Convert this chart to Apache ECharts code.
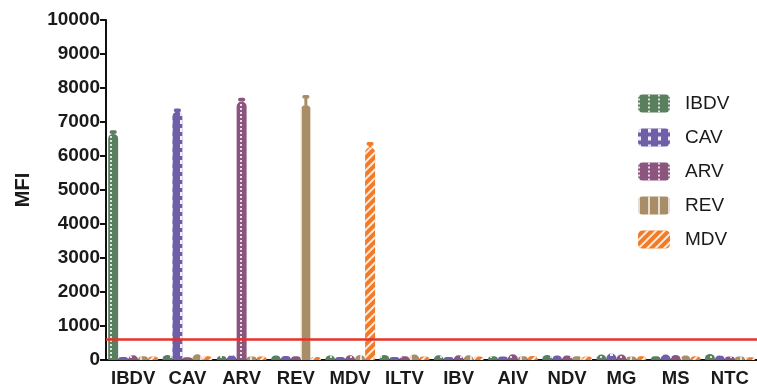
<!DOCTYPE html>
<html><head><meta charset="utf-8">
<script src="https://cdn.jsdelivr.net/npm/echarts@6/dist/echarts.min.js"></script>
<style>html,body{margin:0;padding:0;background:#fff}#c{width:757px;height:389px}</style>
</head><body><div id="c"></div>
<script>
const categories = ['IBDV','CAV','ARV','REV','MDV','ILTV','IBV','AIV','NDV','MG','MS','NTC'];
const seriesNames = ['IBDV','CAV','ARV','REV','MDV'];
const IBDV = [6650, 150, 120, 130, 130, 150, 140, 110, 150, 160, 110, 180];
const CAV  = [90, 7300, 140, 120, 90, 90, 90, 100, 130, 190, 160, 130];
const ARV  = [140, 80, 7600, 110, 140, 110, 140, 170, 130, 160, 150, 100];
const REV  = [110, 170, 100, 7500, 150, 160, 140, 110, 110, 100, 130, 100];
const MDV  = [100, 110, 100, 90, 6250, 100, 100, 120, 100, 110, 110, 80];
// error bars (category index, error) for large bars
const errIBDV = [[0, 60]];
const errCAV = [[1, 50]];
const errARV = [[2, 70]];
const errREV = [[3, 250]];
const errMDV = [[4, 120]];
const cutoff = 600;
const yTicks = [0,1000,2000,3000,4000,5000,6000,7000,8000,9000,10000];

const colors = ['#5a7f5f','#6f5ea8','#8b557e','#a88d66','#f27b28'];
const values = [IBDV, CAV, ARV, REV, MDV];
const errs = [errIBDV, errCAV, errARV, errREV, errMDV];
const decals = [
  {symbol:'rect', color:'rgba(255,255,255,0.8)', dashArrayX:[[2,8]], dashArrayY:[2,2], symbolSize:1, rotation:0},
  {symbol:'rect', color:'rgba(255,255,255,0.9)', dashArrayX:[[3,7]], dashArrayY:[4,4], symbolSize:1, rotation:0},
  {symbol:'rect', color:'rgba(255,255,255,0.8)', dashArrayX:[[2,8]], dashArrayY:[2,2], symbolSize:1, rotation:0},
  {symbol:'rect', color:'rgba(255,255,255,0.7)', dashArrayX:[[2,8]], dashArrayY:[1,0], symbolSize:1, rotation:0},
  {symbol:'rect', color:'rgba(255,255,255,0.85)', dashArrayX:[[1,0]], dashArrayY:[2,4], symbolSize:1, rotation:-Math.PI/4}
];
const catGap = 0.08;

const series = [];
values.forEach((v, k) => {
  const s = {
    name: seriesNames[k], type: 'bar', data: v, barGap: '0%', barCategoryGap: '8%',
    itemStyle: {color: colors[k], borderRadius: [5,5,0,0], decal: decals[k]},
    emphasis: {disabled: true}
  };
  if (k === 0) {
    s.markLine = {silent: true, symbol: 'none', label: {show: false},
      lineStyle: {color: '#e8302a', width: 2.5, type: 'solid'},
      data: [{yAxis: cutoff}]};
  }
  series.push(s);
});
errs.forEach((e, k) => {
  series.push({
    type: 'custom', silent: true, z: 1,
    data: e.map(d => [d[0], values[k][d[0]], d[1], k]),
    renderItem: function (params, api) {
      const band = api.size([1, 0])[0];
      const barW = band * (1 - catGap) / 5;
      const base = api.coord([api.value(0), api.value(1)]);
      const top = api.coord([api.value(0), api.value(1) + api.value(2)]);
      const x = base[0] + (api.value(3) - 2) * barW;
      return {type: 'group', children: [
        {type: 'line', shape: {x1: x, y1: base[1], x2: x, y2: top[1]}, style: {stroke: colors[api.value(3)], lineWidth: 3}},
        {type: 'rect', shape: {x: x - 3.5, y: top[1] - 1.5, width: 7, height: 3.5, r: 1.5}, style: {fill: colors[api.value(3)]}}
      ]};
    }
  });
});

const chart = echarts.init(document.getElementById('c'));
chart.setOption({
  animation: false,
  backgroundColor: '#fff',
  textStyle: {fontFamily: 'Liberation Sans, Arial, sans-serif'},
  grid: {left: 106, top: 20, width: 655, bottom: 29, containLabel: false},
  legend: {
    data: seriesNames, orient: 'vertical', left: 633, top: 89,
    itemWidth: 32, itemHeight: 18, itemGap: 15, icon: 'roundRect',
    textStyle: {fontSize: 19, color: '#1a1a1a', padding: [0,0,0,10], fontFamily: 'Liberation Sans, Arial, sans-serif'}
  },
  xAxis: {
    type: 'category', data: categories,
    axisLine: {lineStyle: {color: '#111', width: 2}},
    axisTick: {alignWithLabel: true, length: 6, lineStyle: {color: '#111', width: 2}},
    axisLabel: {fontSize: 18.5, fontWeight: 'bold', color: '#1a1a1a', margin: 9, interval: 0}
  },
  yAxis: {
    type: 'value', min: yTicks[0], max: yTicks[yTicks.length-1], interval: 1000,
    name: 'MFI', nameLocation: 'middle', nameGap: 73,
    nameTextStyle: {fontSize: 20, fontWeight: 'bold', color: '#1a1a1a'},
    axisLine: {show: true, lineStyle: {color: '#111', width: 2}},
    axisTick: {show: true, length: 6, lineStyle: {color: '#111', width: 2}},
    splitLine: {show: false},
    axisLabel: {fontSize: 19, fontWeight: 'bold', color: '#1a1a1a', margin: 6, formatter: v => String(v)}
  },
  series: series
});
</script></body></html>
